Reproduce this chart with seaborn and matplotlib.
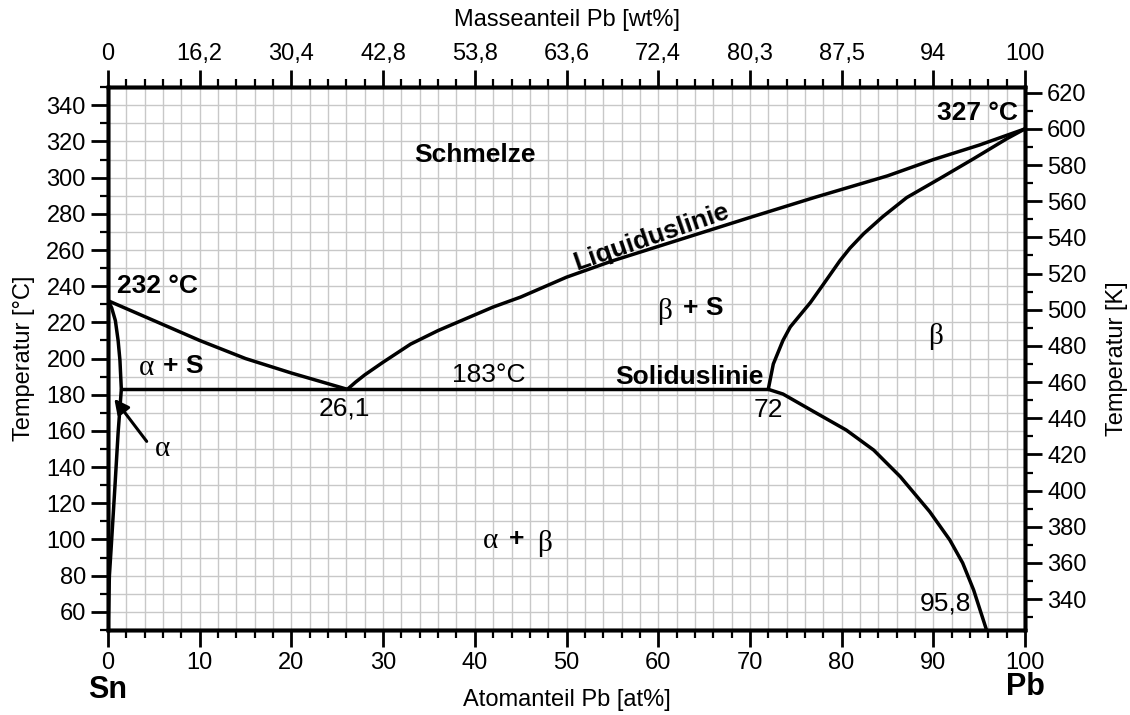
import numpy as np
import pandas as pd
import matplotlib
matplotlib.use("Agg")
import matplotlib.pyplot as plt
import seaborn as sns
from matplotlib.ticker import MultipleLocator

# Phase boundaries of the Sn-Pb system (at% Pb, temperature in degC)
liq_left_x = [0, 5, 10, 15, 20, 26.1]
liq_left_t = [232, 221, 210, 200, 192, 183]
liq_right_x = [26.1, 27, 28, 30, 33, 36, 39, 42, 45, 50, 55, 60, 65, 70, 77, 85, 90, 95, 100]
liq_right_t = [183, 187, 191, 198, 208, 215.5, 222, 228.5, 234, 245, 254, 262, 270, 278, 289, 301, 310, 318, 327]
beta_sol_x = [72, 72.55, 73.6, 74.4, 76.6, 78.0, 79.8, 80.9, 82.4, 84.5, 87.1, 90.7, 94.4, 98, 100]
beta_sol_t = [183, 197, 210, 217.5, 231, 241, 254, 261, 269, 278.5, 289, 299.5, 310.5, 321.5, 327]
beta_solv_x = [72, 73.6, 77.3, 80.5, 83.5, 86.4, 89.6, 91.8, 93.2, 94.4, 95.8]
beta_solv_t = [183, 180.4, 169.7, 160.5, 149.4, 134.7, 115.4, 99.7, 87, 72, 50]
alpha_x = [0, 0.4, 0.8, 1.1, 1.3, 1.45, 1.1, 0.75, 0.35, 0.15, 0]
alpha_t = [232, 228, 221, 210, 199, 183, 159, 129, 96, 80, 50]
eut_x = [1.45, 72]
eut_t = [183, 183]

wt_labels = ["0", "16,2", "30,4", "42,8", "53,8", "63,6", "72,4", "80,3", "87,5", "94", "100"]

curves = {
    "liq_left": (liq_left_x, liq_left_t),
    "liq_right": (liq_right_x, liq_right_t),
    "beta_sol": (beta_sol_x, beta_sol_t),
    "beta_solv": (beta_solv_x, beta_solv_t),
    "alpha": (alpha_x, alpha_t),
    "eutectic": (eut_x, eut_t),
}
df = pd.concat([pd.DataFrame({"x": xs, "t": ts, "curve": name})
                for name, (xs, ts) in curves.items()], ignore_index=True)

sns.set_style("ticks", {"axes.edgecolor": "black", "text.color": "black",
                        "axes.labelcolor": "black", "xtick.color": "black",
                        "ytick.color": "black"})
plt.rcParams['font.family'] = ['Liberation Sans', 'DejaVu Sans']

fig = plt.figure(figsize=(11.3, 7.15), dpi=100)
ax = fig.add_axes([0.0956, 0.119, 0.8115, 0.759])

sns.lineplot(data=df, x="x", y="t", units="curve", estimator=None, sort=False,
             color="black", lw=2.5, ax=ax, legend=False)

fs = 17
ax.set_xlim(0, 100)
ax.set_ylim(50, 350)
ax.xaxis.set_major_locator(MultipleLocator(10))
ax.xaxis.set_minor_locator(MultipleLocator(2))
ax.set_yticks(range(60, 341, 20))
ax.yaxis.set_minor_locator(MultipleLocator(10))
ax.grid(which="both", color="#c8c8c8", lw=1)
ax.set_axisbelow(True)
ax.tick_params(which="major", length=12, width=2, labelsize=fs, pad=4)
ax.tick_params(which="minor", length=6, width=1.6)
ax.set_xlabel("Atomanteil Pb [at%]", fontsize=fs, labelpad=11)
ax.set_ylabel("Temperatur [°C]", fontsize=fs, labelpad=8)
for s in ax.spines.values():
    s.set_linewidth(2.5)
    s.set_visible(True)

# Kelvin axis on the right
axk = ax.twinx()
axk.set_ylim(50 + 273, 350 + 273)
axk.yaxis.set_major_locator(MultipleLocator(20))
axk.yaxis.set_minor_locator(MultipleLocator(10))
axk.tick_params(which="major", length=12, width=2, labelsize=fs, pad=4)
axk.tick_params(which="minor", length=6, width=1.6)
axk.set_ylabel("Temperatur [K]", fontsize=fs, labelpad=14)
axk.grid(False)

# mass fraction axis on top
axw = ax.twiny()
axw.set_xlim(0, 100)
axw.set_xticks(range(0, 101, 10))
axw.set_xticklabels(wt_labels)
axw.xaxis.set_minor_locator(MultipleLocator(2))
axw.tick_params(which="major", length=12, width=2, labelsize=fs, pad=4)
axw.tick_params(which="minor", length=6, width=1.6)
axw.set_xlabel("Masseanteil Pb [wt%]", fontsize=fs, labelpad=12)
axw.grid(False)
for a in (axk, axw):
    for s in a.spines.values():
        s.set_linewidth(2.5)

serif = ['Liberation Serif', 'DejaVu Serif']
bold = dict(fontsize=19, fontweight="bold")
norm = dict(fontsize=19)
greek = dict(fontsize=21, family=serif)

ax.text(1.0, 240, "232 °C", ha="left", va="center", **bold)
ax.text(99.2, 335.5, "327 °C", ha="right", va="center", **bold)
ax.text(40, 312.5, "Schmelze", ha="center", va="center", **bold)
ax.text(59.3, 267, "Liquiduslinie", ha="center", va="center", rotation=19, **bold)
ax.text(63.4, 190, "Soliduslinie", ha="center", va="center", **bold)
ax.text(41.5, 191, "183°C", ha="center", va="center", **norm)
ax.text(25.8, 172.5, "26,1", ha="center", va="center", **norm)
ax.text(72.0, 171.5, "72", ha="center", va="center", **norm)
ax.text(91.3, 64.5, "95,8", ha="center", va="center", **norm)

ax.text(4.2, 195, "α", ha="center", va="center", **greek)
ax.text(6.0, 196, "+ S", ha="left", va="center", **bold)
ax.text(60.7, 226, "β", ha="center", va="center", **greek)
ax.text(62.7, 228, "+ S", ha="left", va="center", **bold)
ax.text(90.2, 212, "β", ha="center", va="center", **greek)
ax.text(41.7, 99, "α", ha="center", va="center", **greek)
ax.text(44.6, 100, "+", ha="center", va="center", **bold)
ax.text(47.6, 98, "β", ha="center", va="center", **greek)

ax.annotate("", xy=(0.5, 179), xytext=(4.4, 153),
            arrowprops=dict(arrowstyle="-|>", color="black", lw=2.2, mutation_scale=22))
ax.text(5.9, 150, "α", ha="center", va="center", **greek)

ax.text(0, -0.11, "Sn", transform=ax.get_xaxis_transform(), ha="center", va="center",
        fontsize=22, fontweight="bold")
ax.text(100, -0.105, "Pb", transform=ax.get_xaxis_transform(), ha="center", va="center",
        fontsize=22, fontweight="bold")

fig.savefig("out.png", dpi=100)
